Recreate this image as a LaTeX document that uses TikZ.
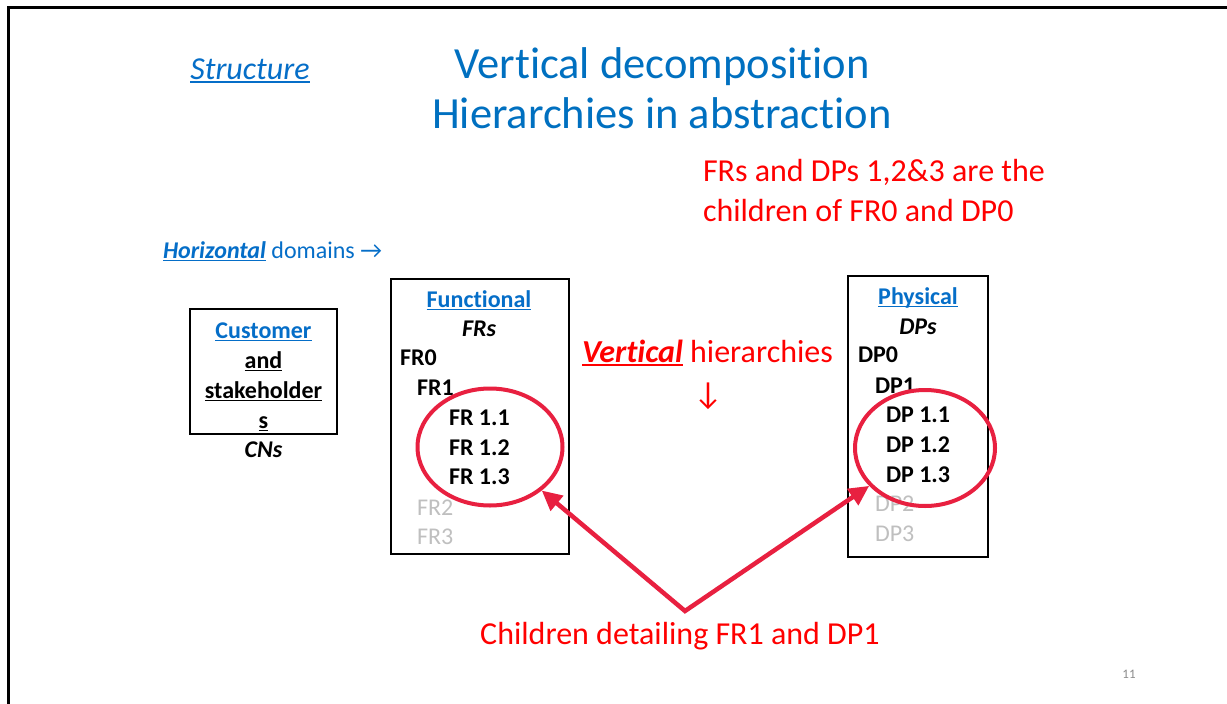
\documentclass[tikz,border=0pt]{standalone}
\usepackage{fontspec}
\setmainfont[Ligatures=NoCommon]{Carlito}
\newfontfamily\arrowfont{DejaVu Sans}
\usetikzlibrary{shapes.geometric,arrows.meta}
\definecolor{titleblue}{RGB}{0,112,192}
\definecolor{linkblue}{RGB}{5,110,200}
\definecolor{crim}{RGB}{232,32,64}
\definecolor{fadegray}{RGB}{191,191,191}
\definecolor{pagegray}{RGB}{140,140,140}
\newsavebox\ulbox
\newcommand\myul[1]{\sbox\ulbox{#1}\rlap{\rule[-0.14em]{\wd\ulbox}{0.075em}}\usebox\ulbox}
\tikzset{
  txt/.style={inner sep=0pt, outer sep=0pt},
  boxtxt/.style={txt, font=\fontsize{24}{28}\selectfont\bfseries},
  fadetxt/.style={boxtxt, text=fadegray, font=\fontsize{24}{28}\selectfont},
  domainbox/.style={draw=black, line width=2.6pt, inner sep=0pt},
  ring/.style={ellipse, draw=crim, line width=4pt, inner sep=0pt},
  redtxt/.style={txt, text=red, font=\fontsize{32}{37}\selectfont},
}
\begin{document}
\begin{tikzpicture}[x=1pt,y=-1pt]
\useasboundingbox[fill=white] (0,0) rectangle (1227,704);
% slide frame
\draw[line width=3pt] (8,712) -- (8,7) -- (1235,7);

% titles
\node[txt, anchor=base, text=titleblue, font=\fontsize{44.5}{50}\selectfont] (t1) at (662,78) {Vertical decomposition};
\node[txt, anchor=base, text=titleblue, font=\fontsize{44.5}{50}\selectfont] (t2) at (662,128) {Hierarchies in abstraction};
\node[txt, anchor=base, text=linkblue, font=\fontsize{32}{36}\selectfont\itshape] (struct) at (250,79) {\myul{Structure}};

% red note
\node[redtxt, anchor=base west] (note1) at (703,181) {FRs and DPs 1,2\&3 are the};
\node[redtxt, anchor=base west] (note2) at (703,221) {children of FR0 and DP0};

% horizontal domains
\node[txt, anchor=base west, text=linkblue, font=\fontsize{24}{28}\selectfont] (horiz) at (163,258)
  {\myul{\textbf{\textit{Horizontal}}} domains →};

% customer box
\node[domainbox, minimum width=147pt, minimum height=125pt] (cbox) at (263.5,371.5) {};
\node[boxtxt, anchor=base, text=linkblue] (c1) at (263.5,338) {\myul{Customer}};
\node[boxtxt, anchor=base] (c2) at (263.5,368) {\myul{and}};
\node[boxtxt, anchor=base] (c3) at (263.5,398) {\myul{stakeholder}};
\node[boxtxt, anchor=base] (c4) at (263.5,428) {\myul{s}};
\node[boxtxt, anchor=base, font=\fontsize{24}{28}\selectfont\bfseries\itshape] (cns) at (263.5,457) {CNs};

% functional box
\node[domainbox, minimum width=178pt, minimum height=275pt] (fbox) at (480,416.5) {};
\node[boxtxt, anchor=base, text=linkblue] (f0) at (479,307) {\myul{Functional}};
\node[boxtxt, anchor=base, font=\fontsize{24}{28}\selectfont\bfseries\itshape] (frs) at (479,336) {FRs};
\node[boxtxt, anchor=base west] (fr0) at (400,365) {FR0};
\node[boxtxt, anchor=base west] (fr1) at (417,395) {FR1};
\node[boxtxt, anchor=base west] (fr11) at (449,425) {FR 1.1};
\node[boxtxt, anchor=base west] (fr12) at (449,455) {FR 1.2};
\node[boxtxt, anchor=base west] (fr13) at (449,484) {FR 1.3};
\node[fadetxt, anchor=base west] (fr2) at (417,515) {FR2};
\node[fadetxt, anchor=base west] (fr3) at (417,544) {FR3};

% physical box
\node[domainbox, minimum width=140pt, minimum height=281pt] (pbox) at (918,416.5) {};
\node[boxtxt, anchor=base, text=linkblue] (p0) at (918,304) {\myul{Physical}};
\node[boxtxt, anchor=base, font=\fontsize{24}{28}\selectfont\bfseries\itshape] (dps) at (918,334) {DPs};
\node[boxtxt, anchor=base west] (dp0) at (858,362) {DP0};
\node[boxtxt, anchor=base west] (dp1) at (875,393) {DP1};
\node[boxtxt, anchor=base west] (dp11) at (886,422) {DP 1.1};
\node[boxtxt, anchor=base west] (dp12) at (886,452) {DP 1.2};
\node[boxtxt, anchor=base west] (dp13) at (886,482) {DP 1.3};
\node[fadetxt, anchor=base west] (dp2) at (875,511) {DP2};
\node[fadetxt, anchor=base west] (dp3) at (875,541) {DP3};

% vertical hierarchies
\node[redtxt, anchor=base west] (vert) at (582,362)
  {\myul{\textbf{\textit{Vertical}}} hierarchies};
\node[txt, text=red, font=\fontsize{32}{36}\selectfont] (down) at (708,396) {↓};

% rings
\node[ring, minimum width=145pt, minimum height=117pt] (fring) at (490,447) {};
\node[ring, minimum width=140pt, minimum height=116pt] (dring) at (925,448) {};

% children label and arrows
\node[redtxt, anchor=base] (child) at (680,644) {Children detailing FR1 and DP1};
\coordinate (apex) at (685,611);
\draw[crim, line width=4.5pt, line join=miter,
  {Triangle[length=20pt,width=19pt]}-{Triangle[length=20pt,width=19pt]}]
  (fring) -- (apex) -- (dring);

% page number
\node[txt, text=pagegray, font=\fontsize{13}{15}\selectfont] (pg) at (1129,674) {11};
\end{tikzpicture}
\end{document}
